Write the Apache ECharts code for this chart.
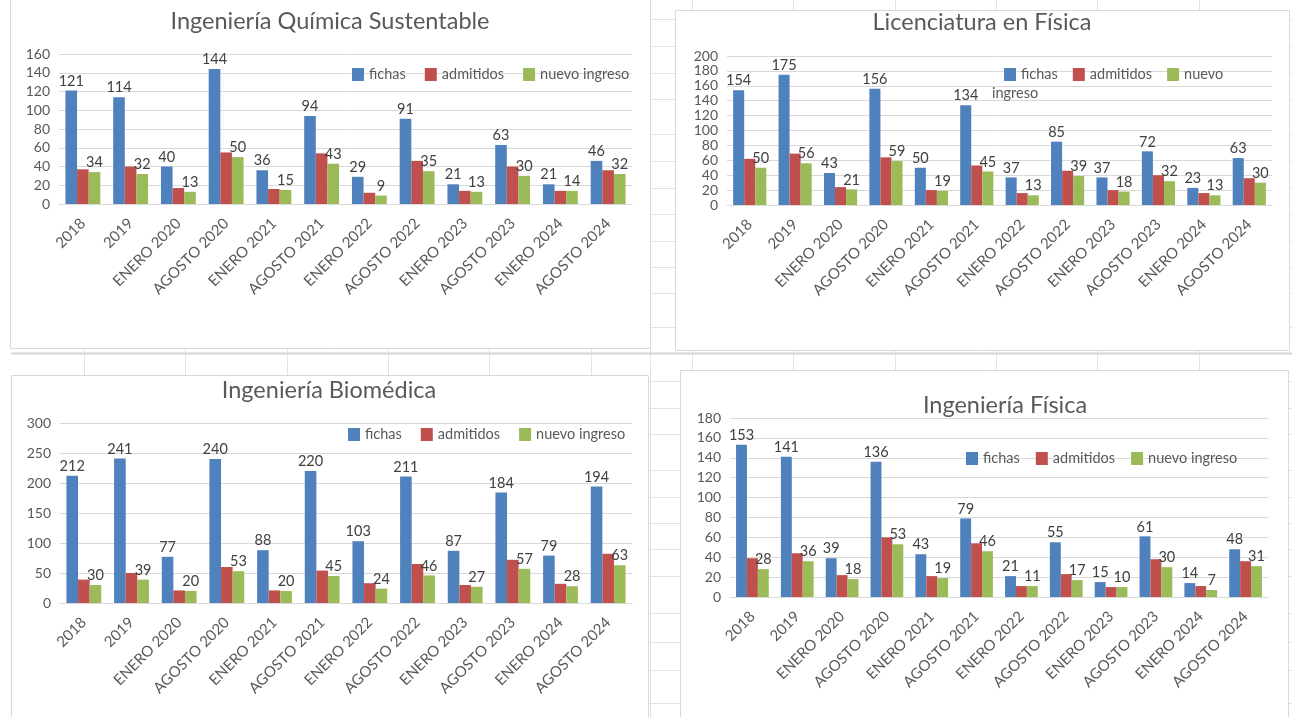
<!DOCTYPE html>
<html>
<head>
<meta charset="utf-8">
<title>Fichas, admitidos y nuevo ingreso por carrera</title>
<script src="https://cdn.jsdelivr.net/npm/echarts@6/dist/echarts.min.js"></script>
<style>
  html, body { margin: 0; padding: 0; background: #ffffff; }
  #chart { width: 1292px; height: 717px; }
</style>
</head>
<body>
<div id="chart"></div>
<script>
// Periodos de ingreso
const categories = ['2018', '2019', 'ENERO 2020', 'AGOSTO 2020', 'ENERO 2021', 'AGOSTO 2021',
  'ENERO 2022', 'AGOSTO 2022', 'ENERO 2023', 'AGOSTO 2023', 'ENERO 2024', 'AGOSTO 2024'];

const seriesNames = ['fichas', 'admitidos', 'nuevo ingreso'];

// Ingeniería Química Sustentable
const iqsFichas    = [121, 114, 40, 144, 36, 94, 29, 91, 21, 63, 21, 46];
const iqsAdmitidos = [37, 40, 17, 55, 16, 54, 12, 46, 14, 40, 14, 36];
const iqsNuevo     = [34, 32, 13, 50, 15, 43, 9, 35, 13, 30, 14, 32];

// Licenciatura en Física
const lfFichas    = [154, 175, 43, 156, 50, 134, 37, 85, 37, 72, 23, 63];
const lfAdmitidos = [62, 69, 24, 64, 20, 53, 16, 46, 20, 40, 16, 36];
const lfNuevo     = [50, 56, 21, 59, 19, 45, 13, 39, 18, 32, 13, 30];

// Ingeniería Biomédica
const ibFichas    = [212, 241, 77, 240, 88, 220, 103, 211, 87, 184, 79, 194];
const ibAdmitidos = [39, 50, 21, 60, 21, 54, 33, 65, 30, 72, 32, 82];
const ibNuevo     = [30, 39, 20, 53, 20, 45, 24, 46, 27, 57, 28, 63];

// Ingeniería Física
const ifFichas    = [153, 141, 39, 136, 43, 79, 21, 55, 15, 61, 14, 48];
const ifAdmitidos = [39, 44, 22, 60, 21, 54, 11, 23, 10, 38, 11, 36];
const ifNuevo     = [28, 36, 18, 53, 19, 46, 11, 17, 10, 30, 7, 31];

// Escalas del eje de valores: [máximo, intervalo]
const yScales = [[160, 20], [200, 20], [300, 50], [180, 20]];

const FONT = 'Lato, "Open Sans", sans-serif';
const TEXT = '#595959';
const LABEL = '#404040';
const GRIDLINE = '#d9d9d9';
const COLORS = ['#4f81bd', '#c0504d', '#9bbb59'];

const panels = [
  { title: 'Ingeniería Química Sustentable', data: [iqsFichas, iqsAdmitidos, iqsNuevo],
    box: [10, -2, 640, 350], titleX: 330, titleY: 9,
    grid: { left: 59, top: 54, width: 573, height: 150 },
    legend: { left: 352, top: 67, gap: 19 } },
  { title: 'Licenciatura en Física', data: [lfFichas, lfAdmitidos, lfNuevo],
    box: [675, 10, 614, 340], titleX: 982, titleY: 10,
    grid: { left: 727, top: 56, width: 545, height: 149 },
    legend: { left: 1004, top: 67, gap: 15 }, shortLegend: true },
  { title: 'Ingeniería Biomédica', data: [ibFichas, ibAdmitidos, ibNuevo],
    box: [11, 375, 637, 345], titleX: 329, titleY: 378,
    grid: { left: 60, top: 423, width: 572, height: 180 },
    legend: { left: 348, top: 427, gap: 19 } },
  { title: 'Ingeniería Física', data: [ifFichas, ifAdmitidos, ifNuevo],
    box: [680, 370, 608, 350], titleX: 1005, titleY: 393,
    grid: { left: 730, top: 418, width: 538, height: 179 },
    legend: { left: 966, top: 451, gap: 16 } }
];

// Cuadrícula de la hoja de cálculo detrás de los gráficos
const sheetCols = [84, 185, 287, 388, 489, 591, 650, 692, 793, 895, 996, 1097, 1199];
const sheetRows = [19, 46, 73, 99, 134, 161, 188, 214, 241, 267, 293, 327, 353, 381, 408,
  434, 470, 497, 523, 549, 576, 613, 642, 670, 703];

const graphics = [];
sheetCols.forEach(x => graphics.push({
  type: 'line', z: -20, silent: true,
  shape: { x1: x + 0.5, y1: 0, x2: x + 0.5, y2: 717 },
  style: { stroke: '#e2e2e2', lineWidth: 1 }
}));
sheetRows.forEach(y => graphics.push({
  type: 'line', z: -20, silent: true,
  shape: { x1: 11, y1: y + 0.5, x2: 1292, y2: y + 0.5 },
  style: { stroke: y === 353 ? '#d4d4d4' : '#e2e2e2', lineWidth: y === 353 ? 2 : 1 }
}));
panels.forEach(p => graphics.push({
  type: 'rect', z: -10, silent: true,
  shape: { x: p.box[0] + 0.5, y: p.box[1] + 0.5, width: p.box[2], height: p.box[3] },
  style: { fill: '#ffffff', stroke: '#d9d9d9', lineWidth: 1 }
}));
// segunda línea de la leyenda de Licenciatura en Física
graphics.push({
  type: 'text', z: 10, left: 992, top: 86,
  style: { text: 'ingreso', font: '14.5px ' + FONT, fill: TEXT }
});

const option = {
  backgroundColor: '#ffffff',
  animation: false,
  color: COLORS,
  textStyle: { fontFamily: FONT },
  graphic: graphics,
  title: panels.map(p => ({
    text: p.title, left: p.titleX, top: p.titleY, textAlign: 'center',
    padding: 0,
    textStyle: { fontFamily: FONT, fontSize: 23.5, fontWeight: 'normal', color: TEXT }
  })),
  legend: panels.map((p, i) => ({
    data: seriesNames.map(n => n + '#' + i),
    left: p.legend.left, top: p.legend.top, padding: 0,
    itemWidth: 12, itemHeight: 13, itemGap: p.legend.gap, icon: 'rect',
    selectedMode: false,
    formatter: name => {
      const n = name.split('#')[0];
      return p.shortLegend && n === 'nuevo ingreso' ? 'nuevo' : n;
    },
    textStyle: { fontFamily: FONT, fontSize: 14.5, color: TEXT }
  })),
  grid: panels.map(p => Object.assign({ containLabel: false }, p.grid)),
  xAxis: panels.map((p, i) => ({
    type: 'category', gridIndex: i, data: categories,
    axisLine: { show: true, lineStyle: { color: GRIDLINE } },
    axisTick: { show: false },
    axisLabel: { interval: 0, rotate: 45, margin: 17, fontFamily: FONT, fontSize: 15, color: TEXT }
  })),
  yAxis: panels.map((p, i) => ({
    type: 'value', gridIndex: i, min: 0, max: yScales[i][0], interval: yScales[i][1],
    axisLine: { show: false }, axisTick: { show: false },
    splitLine: { lineStyle: { color: GRIDLINE, width: 1 } },
    axisLabel: { margin: 9, fontFamily: FONT, fontSize: 14, color: TEXT }
  })),
  series: []
};

panels.forEach((p, i) => {
  seriesNames.forEach((n, k) => {
    option.series.push({
      type: 'bar', name: n + '#' + i,
      xAxisIndex: i, yAxisIndex: i,
      data: p.data[k],
      barGap: '0%', barCategoryGap: '27%',
      itemStyle: { color: COLORS[k] },
      label: {
        show: k !== 1, position: 'top', distance: 2,
        fontFamily: FONT, fontSize: 14.5, color: LABEL
      }
    });
  });
});

const chart = echarts.init(document.getElementById('chart'), null, { renderer: 'canvas' });
chart.setOption(option);
</script>
</body>
</html>
